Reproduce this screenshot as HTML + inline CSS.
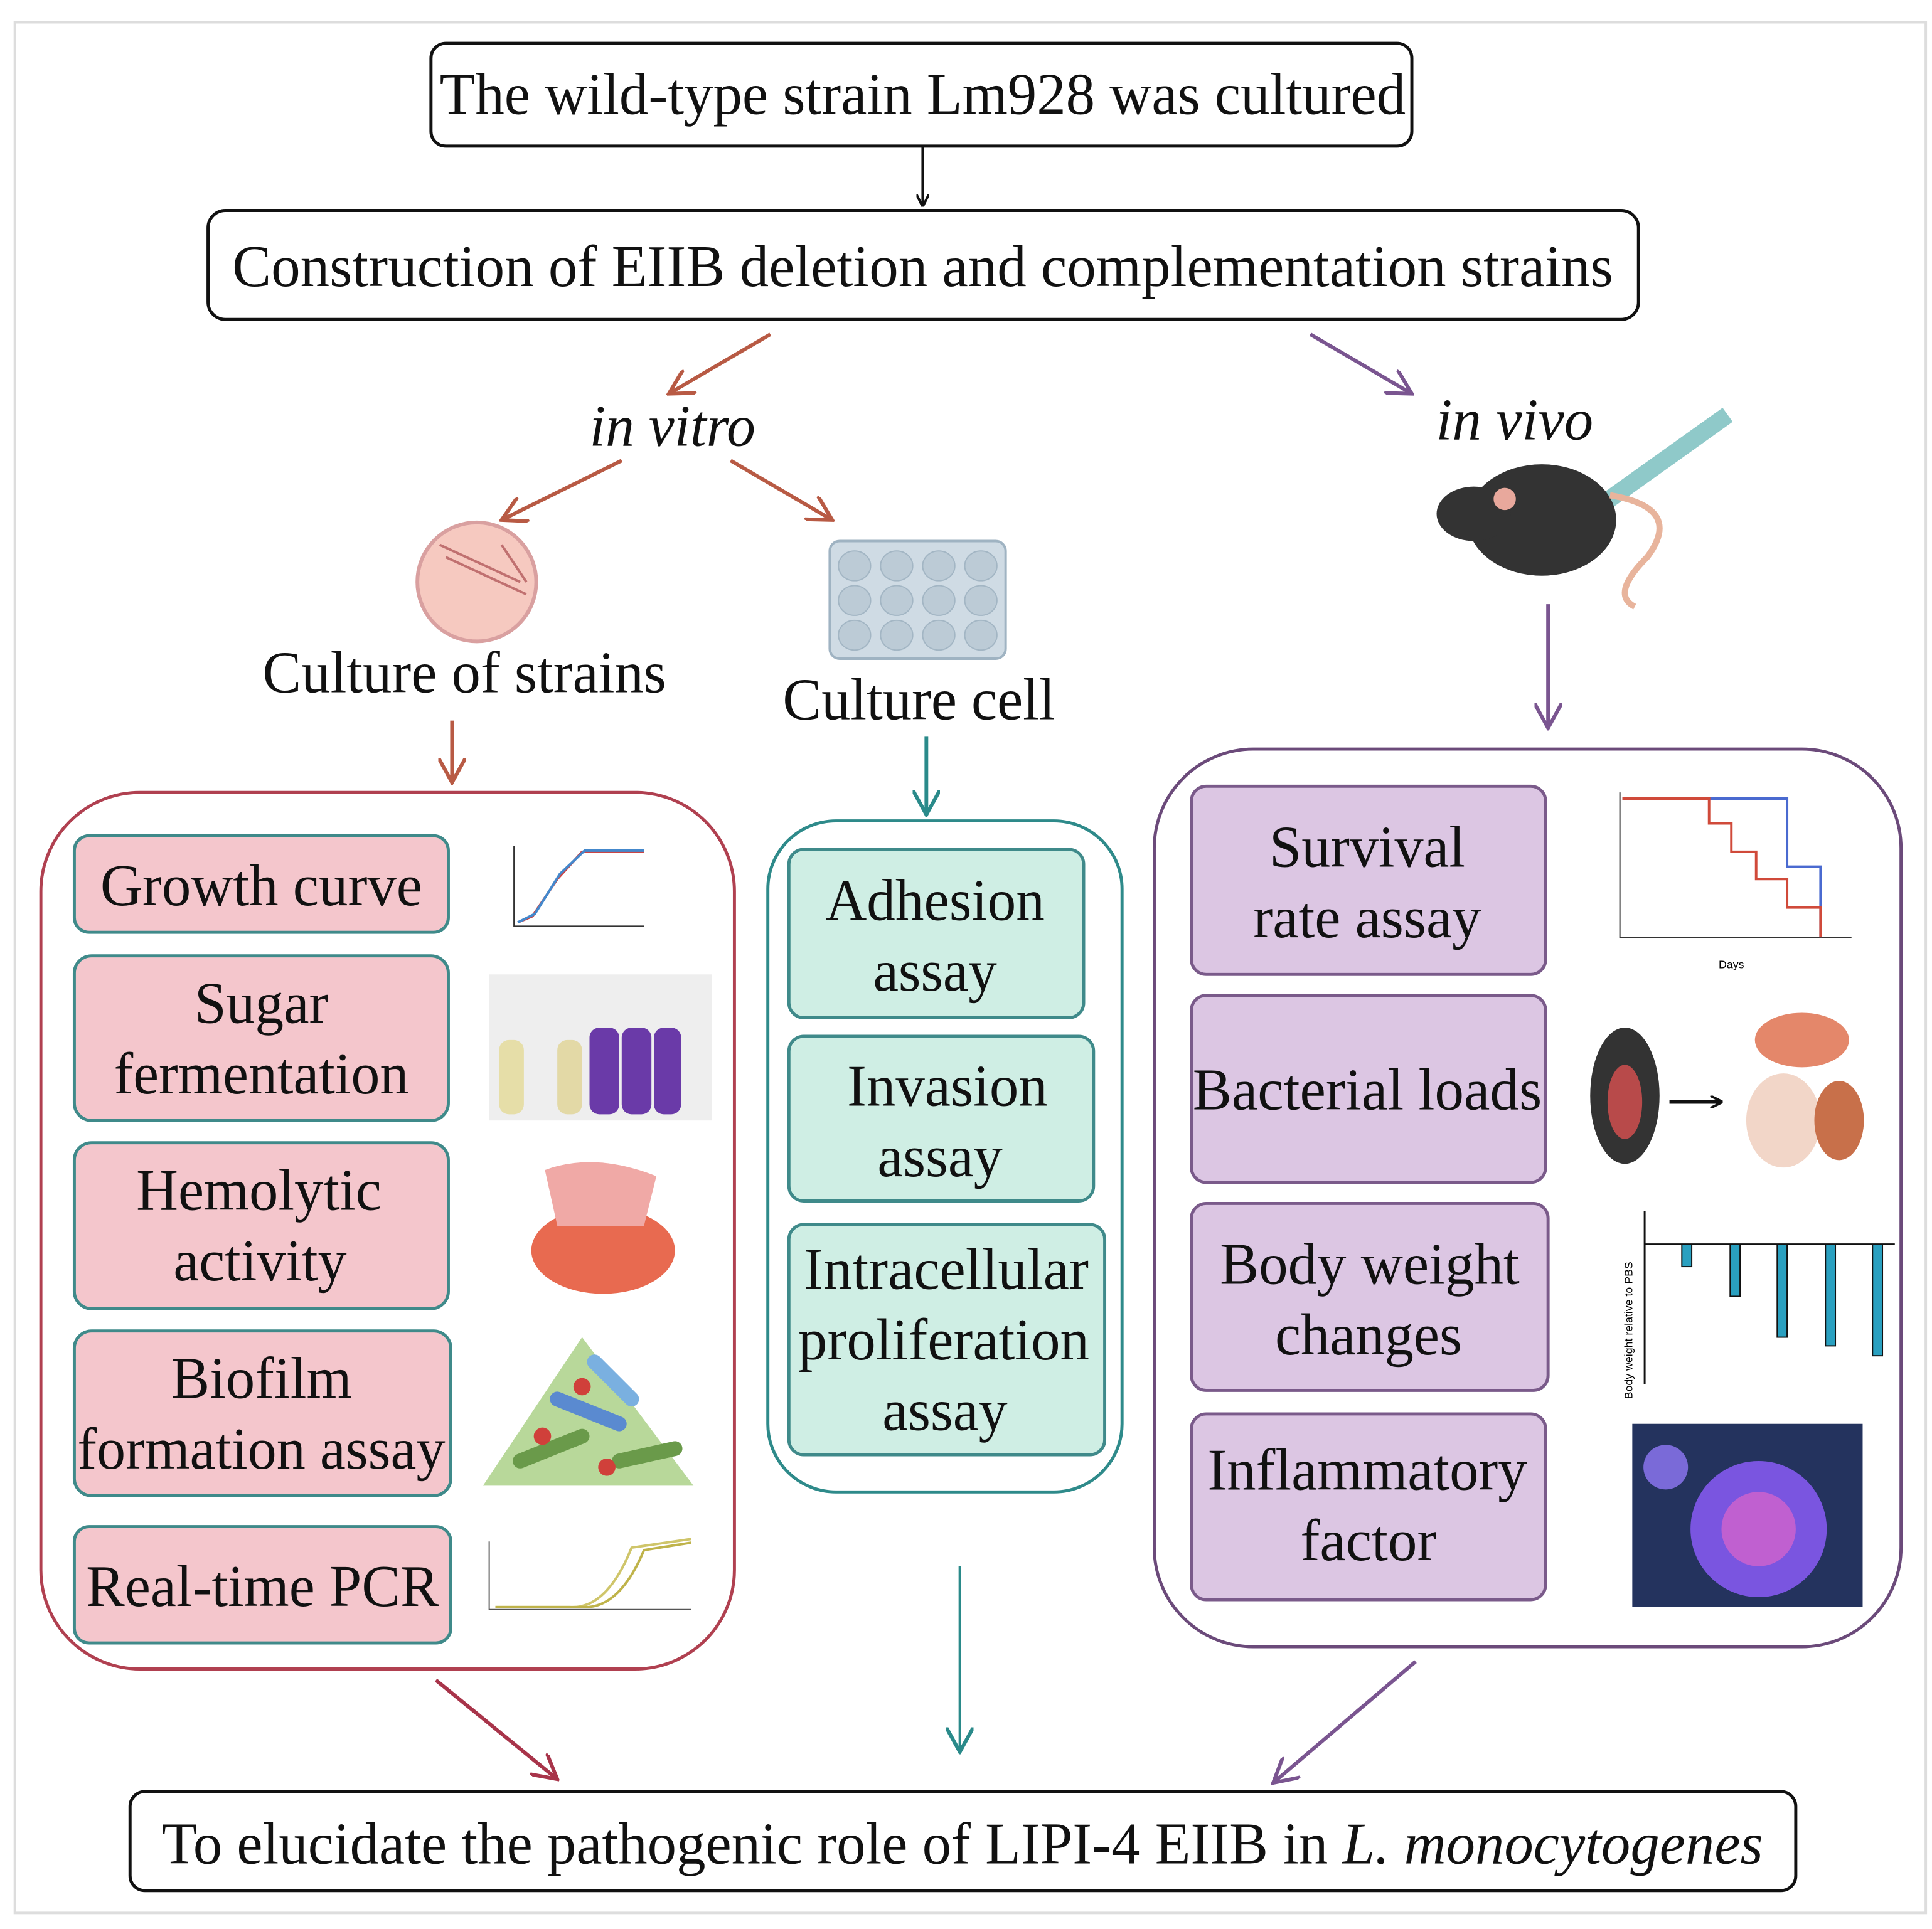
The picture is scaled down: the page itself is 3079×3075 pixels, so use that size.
<!DOCTYPE html>
<html><head><meta charset="utf-8"><style>html,body{margin:0;padding:0;background:#fff}svg{display:block}</style></head><body>
<svg width="3079" height="3075" viewBox="0 0 1560 1558" preserveAspectRatio="none" xmlns="http://www.w3.org/2000/svg" font-family="'Liberation Serif',serif">
<defs>
<marker id="ak" markerWidth="10" markerHeight="10" refX="9" refY="5" orient="auto" markerUnits="userSpaceOnUse"><path d="M0,0 L10,5 L0,10" fill="none" stroke="#111" stroke-width="2"/></marker>
<marker id="ab" markerWidth="22" markerHeight="22" refX="20" refY="11" orient="auto" markerUnits="userSpaceOnUse"><path d="M0,0 L20,11 L0,22" fill="none" stroke="#b85a44" stroke-width="3"/></marker>
<marker id="ar" markerWidth="22" markerHeight="22" refX="20" refY="11" orient="auto" markerUnits="userSpaceOnUse"><path d="M0,0 L20,11 L0,22" fill="none" stroke="#a8344a" stroke-width="3"/></marker>
<marker id="at" markerWidth="22" markerHeight="22" refX="20" refY="11" orient="auto" markerUnits="userSpaceOnUse"><path d="M0,0 L20,11 L0,22" fill="none" stroke="#2a8a8a" stroke-width="3"/></marker>
<marker id="ap" markerWidth="22" markerHeight="22" refX="20" refY="11" orient="auto" markerUnits="userSpaceOnUse"><path d="M0,0 L20,11 L0,22" fill="none" stroke="#7a5590" stroke-width="3"/></marker>
</defs>
<rect x="12" y="18" width="1543" height="1527" fill="none" stroke="#ddd" stroke-width="2"/>
<g stroke="#111" stroke-width="2.5" fill="#fff">
<rect x="348" y="35" width="792" height="83" rx="12"/>
<rect x="168" y="170" width="1155" height="88" rx="14"/>
<rect x="105" y="1447" width="1345" height="80" rx="12"/>
</g>
<g font-size="48" fill="#111" text-anchor="middle" lengthAdjust="spacingAndGlyphs">
<text x="745" y="92" textLength="780" lengthAdjust="spacingAndGlyphs">The wild-type strain Lm928 was cultured</text>
<text x="745" y="231" textLength="1115" lengthAdjust="spacingAndGlyphs">Construction of EIIB deletion and complementation strains</text>
<text x="777" y="1505" textLength="1293" lengthAdjust="spacingAndGlyphs">To elucidate the pathogenic role of LIPI-4 EIIB in <tspan font-style="italic">L. monocytogenes</tspan></text>
<text x="543" y="360" font-style="italic" textLength="134" lengthAdjust="spacingAndGlyphs">in vitro</text>
<text x="1223" y="355" font-style="italic" textLength="127" lengthAdjust="spacingAndGlyphs">in vivo</text>
<text x="375" y="559" textLength="326" lengthAdjust="spacingAndGlyphs">Culture of strains</text>
<text x="742" y="581" textLength="220" lengthAdjust="spacingAndGlyphs">Culture cell</text>
</g>
<g fill="none" stroke-width="3">
<line x1="745" y1="118" x2="745" y2="166" stroke="#111" stroke-width="2" marker-end="url(#ak)"/>
<line x1="622" y1="270" x2="540" y2="318" stroke="#b85a44" marker-end="url(#ab)"/>
<line x1="1058" y1="270" x2="1140" y2="318" stroke="#7a5590" marker-end="url(#ap)"/>
<line x1="502" y1="372" x2="405" y2="420" stroke="#b85a44" marker-end="url(#ab)"/>
<line x1="590" y1="372" x2="672" y2="420" stroke="#b85a44" marker-end="url(#ab)"/>
<line x1="365" y1="582" x2="365" y2="632" stroke="#b85a44" marker-end="url(#ab)"/>
<line x1="748" y1="595" x2="748" y2="658" stroke="#2a8a8a" marker-end="url(#at)"/>
<line x1="1250" y1="488" x2="1250" y2="588" stroke="#7a5590" marker-end="url(#ap)"/>
<line x1="352" y1="1357" x2="450" y2="1437" stroke="#a8344a" marker-end="url(#ar)"/>
<line x1="775" y1="1265" x2="775" y2="1415" stroke="#2a8a8a" stroke-width="2" marker-end="url(#at)"/>
<line x1="1143" y1="1342" x2="1028" y2="1440" stroke="#7a5590" marker-end="url(#ap)"/>
</g>
<circle cx="385" cy="470" r="48" fill="#f6c9c0" stroke="#d9a0a0" stroke-width="3"/>
<path d="M355,440 L420,470 M360,450 L425,480 M405,440 L425,470" stroke="#c07070" stroke-width="2"/>
<rect x="670" y="437" width="142" height="95" rx="8" fill="#cfdbe4" stroke="#9fb3c2" stroke-width="2"/>
<g fill="#bccbd6" stroke="#a3b6c4">
<ellipse cx="690" cy="457" rx="13" ry="12"/><ellipse cx="724" cy="457" rx="13" ry="12"/><ellipse cx="758" cy="457" rx="13" ry="12"/><ellipse cx="792" cy="457" rx="13" ry="12"/>
<ellipse cx="690" cy="485" rx="13" ry="12"/><ellipse cx="724" cy="485" rx="13" ry="12"/><ellipse cx="758" cy="485" rx="13" ry="12"/><ellipse cx="792" cy="485" rx="13" ry="12"/>
<ellipse cx="690" cy="513" rx="13" ry="12"/><ellipse cx="724" cy="513" rx="13" ry="12"/><ellipse cx="758" cy="513" rx="13" ry="12"/><ellipse cx="792" cy="513" rx="13" ry="12"/>
</g>
<line x1="1290" y1="410" x2="1395" y2="335" stroke="#8fc9c9" stroke-width="14"/>
<ellipse cx="1245" cy="420" rx="60" ry="45" fill="#333"/>
<ellipse cx="1190" cy="415" rx="30" ry="22" fill="#333"/>
<circle cx="1215" cy="403" r="9" fill="#e8a89c"/>
<path d="M1300,400 Q1360,410 1330,450 Q1300,480 1320,490" stroke="#e8b49c" stroke-width="5" fill="none"/>
<rect x="33" y="640" width="560" height="708" rx="80" fill="none" stroke="#b04050" stroke-width="2.5"/>
<rect x="620" y="663" width="286" height="542" rx="55" fill="none" stroke="#2e8a8a" stroke-width="2.5"/>
<rect x="932" y="605" width="603" height="725" rx="80" fill="none" stroke="#6b4a7a" stroke-width="2.5"/>
<g fill="#f4c6cc" stroke="#3f8a8a" stroke-width="2.5">
<rect x="60" y="675" width="302" height="78" rx="12"/>
<rect x="60" y="772" width="302" height="133" rx="14"/>
<rect x="60" y="923" width="302" height="134" rx="14"/>
<rect x="60" y="1075" width="304" height="133" rx="14"/>
<rect x="60" y="1233" width="304" height="94" rx="12"/>
</g>
<g fill="#cfeee4" stroke="#3f8a8a" stroke-width="2.5">
<rect x="637" y="686" width="238" height="136" rx="12"/>
<rect x="637" y="837" width="246" height="133" rx="12"/>
<rect x="637" y="989" width="255" height="186" rx="12"/>
</g>
<g fill="#dcc6e3" stroke="#7a5a8a" stroke-width="2.5">
<rect x="962" y="635" width="286" height="152" rx="12"/>
<rect x="962" y="804" width="286" height="151" rx="12"/>
<rect x="962" y="972" width="288" height="151" rx="12"/>
<rect x="962" y="1142" width="286" height="150" rx="12"/>
</g>
<g font-size="48" fill="#111" text-anchor="middle">
<text x="211" y="731" textLength="260" lengthAdjust="spacingAndGlyphs">Growth curve</text>
<text x="211" y="826" textLength="108" lengthAdjust="spacingAndGlyphs">Sugar</text><text x="211" y="883" textLength="238" lengthAdjust="spacingAndGlyphs">fermentation</text>
<text x="209" y="977" textLength="198" lengthAdjust="spacingAndGlyphs">Hemolytic</text><text x="210" y="1034" textLength="140" lengthAdjust="spacingAndGlyphs">activity</text>
<text x="211" y="1129" textLength="146" lengthAdjust="spacingAndGlyphs">Biofilm</text><text x="211" y="1186" textLength="297" lengthAdjust="spacingAndGlyphs">formation assay</text>
<text x="212" y="1297" textLength="285" lengthAdjust="spacingAndGlyphs">Real-time PCR</text>
<text x="755" y="743" textLength="177" lengthAdjust="spacingAndGlyphs">Adhesion</text><text x="755" y="800" textLength="100" lengthAdjust="spacingAndGlyphs">assay</text>
<text x="765" y="893" textLength="162" lengthAdjust="spacingAndGlyphs">Invasion</text><text x="759" y="950" textLength="101" lengthAdjust="spacingAndGlyphs">assay</text>
<text x="764" y="1041" textLength="230" lengthAdjust="spacingAndGlyphs">Intracellular</text><text x="762" y="1098" textLength="235" lengthAdjust="spacingAndGlyphs">proliferation</text><text x="763" y="1155" textLength="101" lengthAdjust="spacingAndGlyphs">assay</text>
<text x="1104" y="700" textLength="158" lengthAdjust="spacingAndGlyphs">Survival</text><text x="1104" y="757" textLength="184" lengthAdjust="spacingAndGlyphs">rate assay</text>
<text x="1104" y="896" textLength="282" lengthAdjust="spacingAndGlyphs">Bacterial loads</text>
<text x="1106" y="1037" textLength="242" lengthAdjust="spacingAndGlyphs">Body weight</text><text x="1105" y="1094" textLength="151" lengthAdjust="spacingAndGlyphs">changes</text>
<text x="1104" y="1203" textLength="258" lengthAdjust="spacingAndGlyphs">Inflammatory</text><text x="1105" y="1260" textLength="110" lengthAdjust="spacingAndGlyphs">factor</text>
</g>
<g fill="none" stroke-width="2">
<path d="M415,683 L415,748 L520,748" stroke="#333" stroke-width="1"/>
<path d="M418,745 L430,740 L450,710 L470,688 L520,688" stroke="#c44"/>
<path d="M418,745 L432,738 L452,706 L472,687 L520,687" stroke="#48c"/>
</g>
<rect x="395" y="787" width="180" height="118" fill="#eee"/>
<rect x="403" y="840" width="20" height="60" rx="8" fill="#e6dea8"/>
<rect x="450" y="840" width="20" height="60" rx="8" fill="#e3d9a6"/>
<rect x="476" y="830" width="24" height="70" rx="8" fill="#6a3aa8"/>
<rect x="502" y="830" width="24" height="70" rx="8" fill="#6a3aa8"/>
<rect x="528" y="830" width="22" height="70" rx="8" fill="#6a3aa8"/>
<ellipse cx="487" cy="1010" rx="58" ry="35" fill="#e86a50"/>
<path d="M440,945 Q480,930 530,950 L520,990 L450,990 Z" fill="#f0a9a6"/>
<path d="M390,1200 L470,1080 L560,1200 Z" fill="#b8d89a"/>
<g stroke-width="12" stroke-linecap="round"><line x1="420" y1="1180" x2="470" y2="1160" stroke="#6a9a4a"/><line x1="450" y1="1130" x2="500" y2="1150" stroke="#5a8ad0"/><line x1="480" y1="1100" x2="510" y2="1130" stroke="#7ab0e0"/><line x1="500" y1="1180" x2="545" y2="1170" stroke="#6a9a4a"/></g>
<g fill="#d0403a"><circle cx="438" cy="1160" r="7"/><circle cx="490" cy="1185" r="7"/><circle cx="470" cy="1120" r="7"/></g>
<path d="M395,1245 L395,1300 L558,1300" stroke="#555" fill="none" stroke-width="1"/>
<path d="M400,1298 L460,1298 Q490,1300 510,1250 L558,1243" stroke="#cfc56a" fill="none" stroke-width="2"/>
<path d="M400,1298 L470,1298 Q500,1300 520,1252 L558,1246" stroke="#bfb34a" fill="none" stroke-width="2"/>
<g fill="none" stroke-width="2"><path d="M1308,640 L1308,757 L1495,757" stroke="#333" stroke-width="1"/>
<path d="M1310,645 L1443,645 L1443,700 L1470,700 L1470,757" stroke="#4a6ad0"/>
<path d="M1310,645 L1380,645 L1380,665 L1398,665 L1398,688 L1418,688 L1418,710 L1443,710 L1443,733 L1470,733 L1470,757" stroke="#d04a3a"/></g>
<text x="1398" y="782" font-size="9" font-family="Liberation Sans" text-anchor="middle">Days</text>
<ellipse cx="1312" cy="885" rx="28" ry="55" fill="#333"/><ellipse cx="1312" cy="890" rx="14" ry="30" fill="#b84a4a"/>
<line x1="1348" y1="890" x2="1390" y2="890" stroke="#111" stroke-width="3" marker-end="url(#ak)"/>
<ellipse cx="1455" cy="840" rx="38" ry="22" fill="#e4876a"/>
<ellipse cx="1440" cy="905" rx="30" ry="38" fill="#f2d6c8"/>
<ellipse cx="1485" cy="905" rx="20" ry="32" fill="#c8704a"/>
<path d="M1328,978 L1328,1118 M1328,1005 L1530,1005" stroke="#111" stroke-width="1.5"/>
<g fill="#2aa0c0" stroke="#111"><rect x="1358" y="1005" width="8" height="18"/><rect x="1397" y="1005" width="8" height="42"/><rect x="1435" y="1005" width="8" height="75"/><rect x="1474" y="1005" width="8" height="82"/><rect x="1512" y="1005" width="8" height="90"/></g>
<text x="1318" y="1130" font-size="9" font-family="Liberation Sans" transform="rotate(-90 1318 1130)">Body weight relative to PBS</text>
<rect x="1318" y="1150" width="186" height="148" fill="#24335e"/>
<circle cx="1420" cy="1235" r="55" fill="#7a55e0"/><circle cx="1420" cy="1235" r="30" fill="#c060d0"/>
<circle cx="1345" cy="1185" r="18" fill="#7a6ad8"/>
</svg>
</body></html>
